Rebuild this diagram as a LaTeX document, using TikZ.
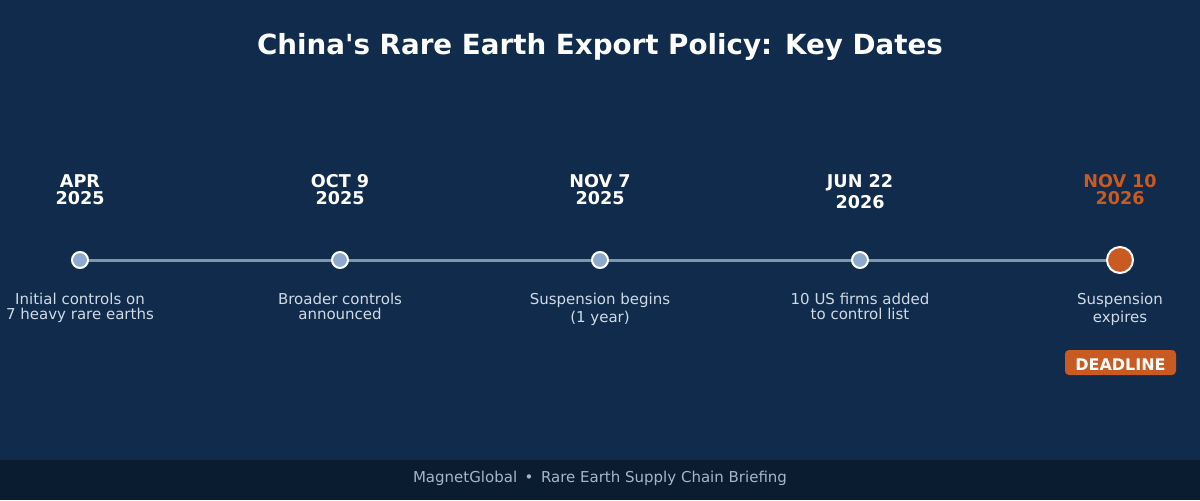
\documentclass[tikz,border=0pt]{standalone}
\usepackage{fontspec}
\setmainfont{DejaVu Sans}[Ligatures=TeXOff]
\usepackage{tikz}
\usetikzlibrary{shapes,arrows}

\definecolor{bgnavy}{RGB}{16,43,75}
\definecolor{footnavy}{RGB}{10,28,48}
\definecolor{axisgray}{RGB}{128,150,170}
\definecolor{dotblue}{RGB}{141,170,206}
\definecolor{deadorange}{RGB}{200,90,34}
\definecolor{desctext}{RGB}{208,218,230}
\definecolor{foottext}{RGB}{166,182,200}

\tikzset{
  datelbl/.style={anchor=center,inner sep=0.75pt,align=center,text=white,font=\bfseries\fontsize{13.2}{12.8}\selectfont},
  desclbl/.style={anchor=north,inner sep=0.75pt,align=center,text=desctext,font=\fontsize{11.25}{11.3}\selectfont},
  evdot/.style={circle,draw=white,line width=1.5pt,fill=dotblue,minimum size=12pt,inner sep=0pt},
  bigdot/.style={evdot,fill=deadorange,minimum size=19.5pt},
}

\begin{document}
\begin{tikzpicture}[x=0.75pt,y=0.75pt,yscale=-1,xscale=1]
    %background and footer band
    \fill[bgnavy] (0,0) rectangle (1200,500);
    \fill[footnavy] (0,460) rectangle (1200,500);
    \useasboundingbox (0,0) rectangle (1200,500);

    % Title
    \draw (600,46.5) node [inner sep=0.75pt,text=white,font=\bfseries\fontsize{20.8}{21}\selectfont] (title) {China's Rare Earth Export Policy: Key Dates};

    % Event dots (placed first, axis drawn between them, dots redrawn on top)
    \coordinate (apr) at (80,260);
    \coordinate (oct) at (340,260);
    \coordinate (nov) at (600,260);
    \coordinate (jun) at (860,260);
    \coordinate (dl) at (1120,260);

    % Timeline axis
    \draw [axisgray,line width=2.25pt] (apr) -- (oct) -- (nov) -- (jun) -- (dl);
    \node [evdot] (aprdot) at (apr) {};
    \node [evdot] (octdot) at (oct) {};
    \node [evdot] (novdot) at (nov) {};
    \node [evdot] (jundot) at (jun) {};
    \node [bigdot] (dldot) at (dl) {};

    % Date labels
    \draw (80,190) node [datelbl] (aprdate) {APR\\2025};
    \draw (340,190) node [datelbl] (octdate) {OCT 9\\2025};
    \draw (600,190) node [datelbl] (novdate) {NOV 7\\2025};
    \draw (860,192) node [datelbl,font=\bfseries\fontsize{13.2}{15.8}\selectfont] (jundate) {JUN 22\\2026};
    \draw (1120,190) node [datelbl,text=deadorange] (dldate) {NOV 10\\2026};

    % Descriptions
    \draw (80,292) node [desclbl] (aprdesc) {Initial controls on\\7 heavy rare earths};
    \draw (340,292) node [desclbl] (octdesc) {Broader controls\\announced};
    \draw (600,292) node [desclbl,font=\fontsize{11.25}{13.2}\selectfont] (novdesc) {Suspension begins\\(1 year)};
    \draw (860,292) node [desclbl] (jundesc) {10 US firms added\\to control list};
    \draw (1120,292) node [desclbl,font=\fontsize{11.25}{13.2}\selectfont] (dldesc) {Suspension\\expires};

    % Deadline badge
    \draw [fill=deadorange,draw=none,rounded corners=3pt] (1065,350) rectangle (1176,375);
    \draw (1120.5,365) node [inner sep=0.75pt,text=white,font=\bfseries\fontsize{12}{12}\selectfont] (badge) {DEADLINE};

    % Footer
    \draw (600,478) node [inner sep=0.75pt,text=foottext,font=\fontsize{11.25}{11.3}\selectfont] (footer) {MagnetGlobal\enspace•\enspace Rare Earth Supply Chain Briefing};
\end{tikzpicture}
\end{document}
